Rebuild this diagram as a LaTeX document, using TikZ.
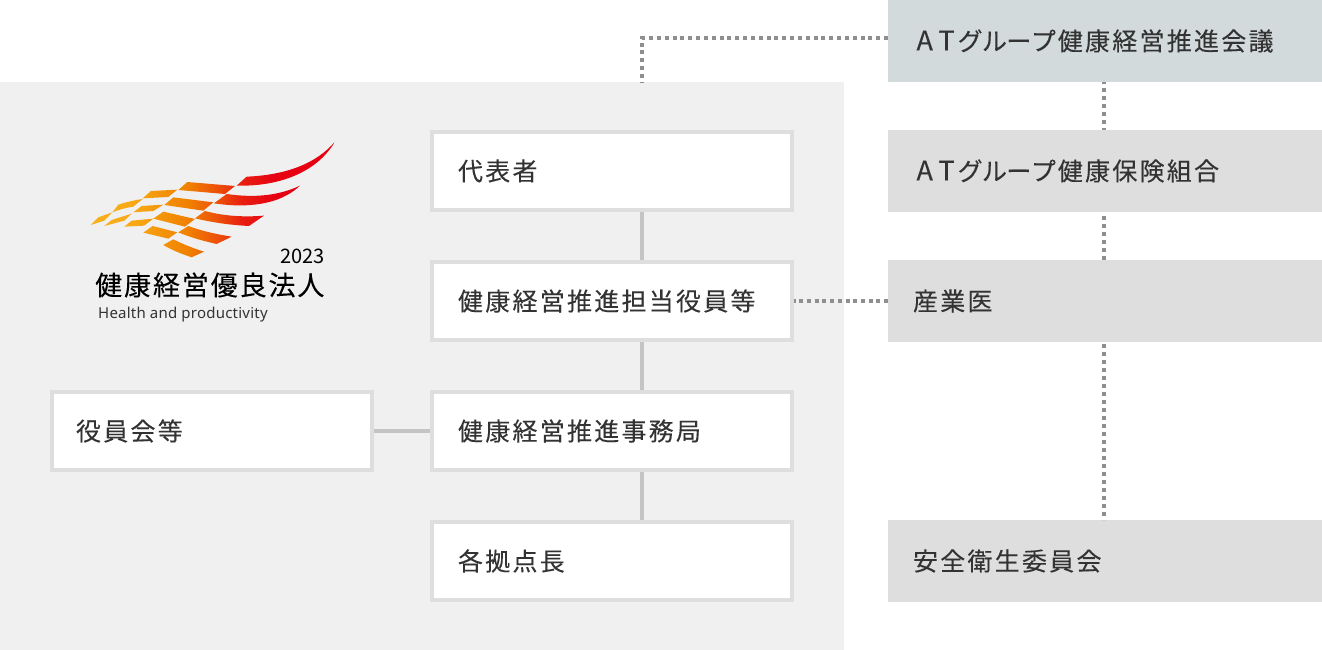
\documentclass[tikz,border=0pt]{standalone}
\usepackage{fontspec}
\usepackage{xcolor}
\setmainfont{Noto Sans CJK JP}
\newfontfamily\boxfont[LetterSpace=9,FakeBold=0.12]{Noto Sans CJK JP}
\newfontfamily\markfont[LetterSpace=7,FakeBold=0.15]{Noto Sans CJK JP}
\newfontfamily\latinfont[LetterSpace=1.5]{Noto Sans}
\definecolor{panelgray}{HTML}{F0F0F0}
\definecolor{boxline}{HTML}{DEDEDE}
\definecolor{solidline}{HTML}{C4C4C4}
\definecolor{dotgray}{HTML}{8F8F8F}
\definecolor{bluegray}{HTML}{D2DADC}
\definecolor{textgray}{HTML}{333333}
\definecolor{wingA}{HTML}{F9B11F}
\definecolor{wingB}{HTML}{F8A815}
\definecolor{wingC}{HTML}{F08000}
\definecolor{wingD}{HTML}{EC5008}
\definecolor{wingE}{HTML}{E81E10}
\definecolor{wingF}{HTML}{E60012}
\pgfdeclarehorizontalshading{wingshade}{100bp}{
    color(0bp)=(wingA);
    color(25bp)=(wingA);
    color(34bp)=(wingB);
    color(45bp)=(wingC);
    color(51bp)=(wingD);
    color(56bp)=(wingE);
    color(63bp)=(wingF);
    color(100bp)=(wingF)}
\newcommand{\atgroup}{\kern3.5pt{\fontsize{27}{30}\selectfont A\kern5.5pt T}\kern3pt グ\kern-0.6pt ル\kern-0.6pt ー\kern-0.6pt プ\kern2pt}
\tikzset{
    boxtext/.style   = {font=\boxfont\fontsize{25}{30}\selectfont, text=textgray, align=left},
    whitebox/.style  = {boxtext, draw=boxline, fill=white, line width=4pt, minimum height=78pt,
                        minimum width=360pt, text width=308pt, inner xsep=26pt, inner ysep=0pt},
    leftbox/.style   = {whitebox, minimum width=320pt, text width=272pt, inner xsep=24pt},
    sidebox/.style   = {boxtext, fill=boxline, minimum height=82pt, minimum width=434pt,
                        text width=384pt, inner xsep=25pt, inner ysep=0pt, outer sep=0pt},
    solidlink/.style = {draw=solidline, line width=4pt},
    dotlink/.style   = {draw=dotgray, line width=4pt, dash pattern=on 4pt off 3.83pt},
    rowdots/.style   = {dotlink, dash pattern=on 4pt off 3.7pt},
    coldots/.style   = {dotlink, dash pattern=on 4pt off 4pt, dash phase=#1}
}
\begin{document}
\begin{tikzpicture}[x=1pt,y=-1pt]
    \useasboundingbox (0,0) rectangle (1322,650);
    \node[fill=panelgray, minimum width=844pt, minimum height=568pt, inner sep=0pt, outer sep=0pt]
        (panel) at (422,366) {};

    \node[whitebox] (daihyo)  at (612,171) {代表者};
    \node[whitebox] (tanto)   at (612,301) {健康経営推進担当役員等};
    \node[whitebox] (jimu)    at (612,431) {健康経営推進事務局};
    \node[whitebox] (kyoten)  at (612,561) {各拠点長};
    \node[leftbox]  (yakuin)  at (212,431) {役員会等};

    \node[sidebox, fill=bluegray] (kaigi) at (1105,41) {\atgroup 健康経営推進会議};
    \node[sidebox] (kumiai)  at (1105,171) {\atgroup 健康保険組合};
    \node[sidebox] (sangyo)  at (1105,301) {産業医};
    \node[sidebox] (eisei)   at (1105,561) {安全衛生委員会};

    \coordinate (spine)  at (642,38);
    \coordinate (rspine) at (1104,0);

    \draw[solidlink] (daihyo.south -| spine) -- (tanto.north -| spine);
    \draw[solidlink] (tanto.south -| spine)  -- (jimu.north -| spine);
    \draw[solidlink] (jimu.south -| spine)   -- (kyoten.north -| spine);
    \draw[solidlink, yshift=-1pt] (yakuin.east) -- (jimu.west);

    \draw[dotlink] (kaigi.west |- spine) -- (spine) -- (spine |- panel.north);
    \draw[coldots=2pt] (kaigi.south -| rspine)  -- (kumiai.north -| rspine);
    \draw[coldots=4pt] (kumiai.south -| rspine) -- (sangyo.north -| rspine);
    \draw[coldots=6pt] (sangyo.south -| rspine) -- (eisei.north -| rspine);
    \draw[rowdots, yshift=-1pt] (sangyo.west) -- (tanto.east);

    % wing mark
    \begin{scope}[shift={(70,130)},x=0.3333pt,y=-0.3333pt]
        \clip
            (500,167) -- (530,140) .. controls (650,135) and (740,100) .. (795,35)
                      .. controls (745,120) and (640,170) .. (500,167) -- cycle
            (432,220) -- (470,192) .. controls (560,205) and (630,195) .. (690,167)
                      .. controls (630,225) and (530,235) .. (432,220) -- cycle
            (375,265) -- (405,243) .. controls (460,258) and (520,262) .. (582,257)
                      -- (537,288) .. controls (480,285) and (430,278) .. (375,265) -- cycle
            (325,307) -- (355,288) .. controls (395,303) and (440,313) .. (485,320)
                      -- (440,342) .. controls (400,333) and (360,322) .. (325,307) -- cycle
            (280,345) -- (310,328) .. controls (340,343) and (370,355) .. (402,365)
                      -- (365,382) .. controls (335,372) and (305,360) .. (280,345) -- cycle
            (325,180) -- (352,156) -- (495,168) -- (465,192) -- cycle
            (218,205) -- (243,183) -- (322,179) -- (295,201) -- cycle
            (127,247) -- (145,224) .. controls (170,216) and (195,210) .. (218,207)
                      -- (190,230) .. controls (168,233) and (148,239) .. (127,247) -- cycle
            (62,285)  -- (85,262) -- (127,247) -- (103,272) -- cycle
            (283,225) -- (310,202) -- (430,217) -- (400,242) -- cycle
            (190,247) -- (215,228) -- (280,224) -- (250,243) -- cycle
            (103,288) -- (125,270) -- (185,251) -- (163,272) -- cycle
            (250,266) -- (280,245) -- (375,267) -- (345,290) -- cycle
            (163,290) -- (185,272) -- (250,266) -- (222,287) -- cycle
            (220,308) -- (248,288) -- (322,307) -- (295,326) -- cycle;
        \shade[shading=wingshade] (62,35) rectangle (795,382);
    \end{scope}

    \node[anchor=east, inner sep=0pt, font=\fontsize{20}{22}\selectfont, text=black] (markyear) at (325,256) {2023};
    \node[anchor=west, inner sep=0pt, font=\markfont\fontsize{27}{30}\selectfont, text=black] (marktitle) at (95,285) {健康経営優良法人};
    \node[anchor=west, inner sep=0pt, font=\latinfont\fontsize{15}{18}\selectfont, text=textgray] (marksub) at (98,315) {Health and productivity};
\end{tikzpicture}
\end{document}
